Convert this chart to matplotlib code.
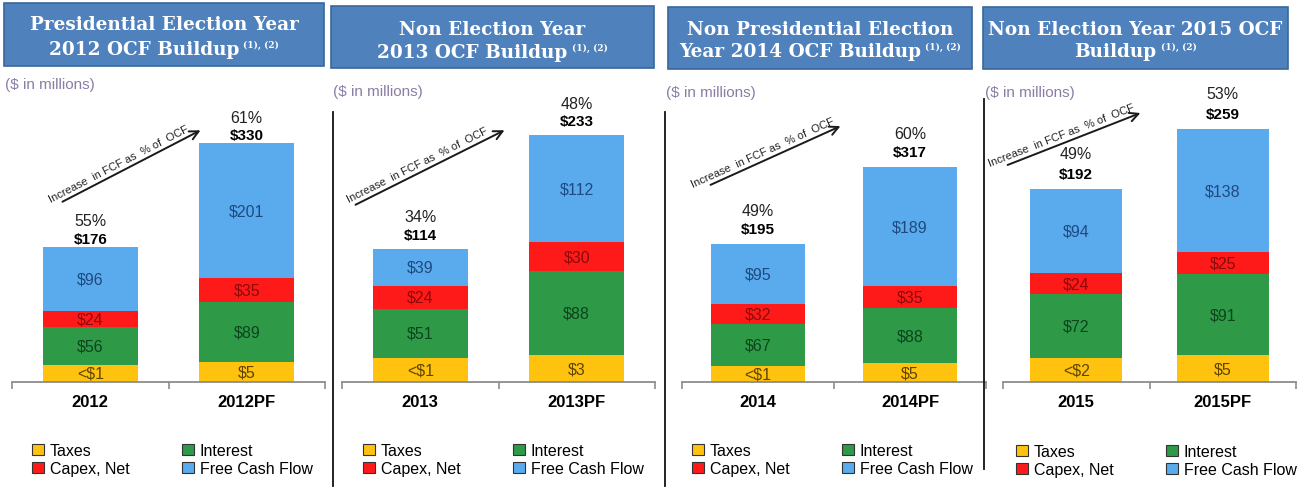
import numpy as np
import matplotlib
matplotlib.use("Agg")
import matplotlib.pyplot as plt
from matplotlib.patches import Rectangle, Patch
from matplotlib.lines import Line2D

plt.rcParams['font.family'] = ['Liberation Sans', 'DejaVu Sans']

## Datos ($ in millions)
titles = [("Presidential Election Year", "2012 OCF Buildup"),
          ("Non Election Year", "2013 OCF Buildup"),
          ("Non Presidential Election", "Year 2014 OCF Buildup"),
          ("Non Election Year 2015 OCF", "Buildup")]
years = [["2012", "2012PF"], ["2013", "2013PF"], ["2014", "2014PF"], ["2015", "2015PF"]]

taxes      = [[0.5, 5], [0.5, 3], [0.5, 5], [1.5, 5]]
tax_labels = [["<$1", "$5"], ["<$1", "$3"], ["<$1", "$5"], ["<$2", "$5"]]
interest   = [[56, 89], [51, 88], [67, 88], [72, 91]]
capex      = [[24, 35], [24, 30], [32, 35], [24, 25]]
fcf        = [[96, 201], [39, 112], [95, 189], [94, 138]]
ocf_total  = [[176, 330], [114, 233], [195, 317], [192, 259]]
fcf_pct    = [[55, 61], [34, 48], [49, 60], [49, 53]]

series_names = ["Taxes", "Interest", "Capex, Net", "Free Cash Flow"]
colors  = ["#FFC20E", "#2E9A48", "#FF1A1A", "#5AAAEE"]
txt_col = ["#5E4500", "#0C441B", "#8B0A0A", "#1F4A80"]

## Layout (pixels, origin top-left)
W, H = 1309, 489
base_y, top_y = 383, 100
ax_x   = [(12, 325), (342, 655), (682, 986), (1003, 1296)]
ax_ymax = [396, 271, 426, 293]
bar_w  = [0.61, 0.61, 0.62, 0.63]
tot_gap = [8, 14, 15, 15]
pct_gap = [26, 32, 34, 36]
boxes  = [(4, 4, 324, 67), (331, 7, 654, 69), (668, 8, 972, 70), (983, 8, 1288, 70)]
line_y = [(25, 50), (30, 53), (30, 52), (30, 52)]
units_xy = [(5, 85), (333, 92), (666, 93), (985, 93)]
arrows = [((60, 204), (203, 130)), ((353, 207), (507, 130)),
          ((708, 187), (843, 126)), ((1005, 167), (1143, 113))]
legend_xy = [(32, 444), (363, 444), (692, 444), (1016, 445)]
separators = [(333, 113, 487), (665, 113, 487), (984, 100, 470)]


def fx(x):
    return x / W


def fy(y):
    return 1 - y / H


# escala que ensancha el primer medio dolar (impuestos)
def fwd(y):
    y = np.asarray(y, float)
    return y + 50 * np.clip(y, 0, 0.5)


def inv(u):
    u = np.asarray(u, float)
    return np.where(u < 0, u, np.where(u <= 25.5, u / 51.0, u - 25.0))


fig = plt.figure(figsize=(W / 100, H / 100), dpi=100)
renderer = fig.canvas.get_renderer()

for p in range(4):
    x0, x1 = ax_x[p]
    ax = fig.add_axes([fx(x0), fy(base_y), (x1 - x0) / W, (base_y - top_y) / H])
    ax.set_yscale('function', functions=(fwd, inv))
    ax.set_xlim(-0.5, 1.5)
    ax.set_ylim(0, ax_ymax[p])
    ax.patch.set_alpha(0)

    segs = [taxes[p], interest[p], capex[p], fcf[p]]
    bottom = np.zeros(2)
    for k, vals in enumerate(segs):
        vals = np.array(vals, float)
        ax.bar([0, 1], vals, bar_w[p], bottom=bottom, color=colors[k], linewidth=0)
        for i in range(2):
            lo, hi = bottom[i], bottom[i] + vals[i]
            ymid = inv((fwd(lo) + fwd(hi)) / 2)
            lab = tax_labels[p][i] if k == 0 else "${:.0f}".format(vals[i])
            ax.text(i, ymid, lab, ha='center', va='center', fontsize=11.5, color=txt_col[k])
        bottom = bottom + vals

    for i in range(2):
        ax.annotate("${}".format(ocf_total[p][i]), xy=(i, bottom[i]),
                    xytext=(0, tot_gap[p] * 0.72), textcoords='offset points',
                    ha='center', va='center', fontsize=11, fontweight='bold')
        ax.annotate("{}%".format(fcf_pct[p][i]), xy=(i, bottom[i]),
                    xytext=(0, pct_gap[p] * 0.72), textcoords='offset points',
                    ha='center', va='center', fontsize=11.5, color='#222222')

    for s in ['top', 'left', 'right']:
        ax.spines[s].set_visible(False)
    ax.spines['bottom'].set_color('#8c8c8c')
    ax.spines['bottom'].set_linewidth(1.3)
    ax.yaxis.set_visible(False)
    ax.set_xticks([0, 1])
    ax.set_xticklabels(years[p], fontsize=12, fontweight='bold')
    ax.set_xticks([-0.5, 0.5, 1.5], minor=True)
    ax.tick_params(axis='x', which='major', length=0, pad=9)
    ax.tick_params(axis='x', which='minor', length=5, width=1.2, color='#8c8c8c')

    # leyenda
    handles = [Patch(facecolor=colors[k], edgecolor='#333333', linewidth=0.8, label=series_names[k])
               for k in [0, 2, 1, 3]]
    lx, ly = legend_xy[p]
    ax.legend(handles=handles, ncol=2, loc='upper left', bbox_to_anchor=(fx(lx), fy(ly)),
              bbox_transform=fig.transFigure, frameon=False, fontsize=11.5,
              borderpad=0, borderaxespad=0, handlelength=0.75, handleheight=0.75,
              handletextpad=0.35, columnspacing=3.3, labelspacing=0.2)

    # flecha "Increase in FCF as % of OCF"
    (tx, ty), (hx, hy) = arrows[p]
    ax.annotate("", xy=(hx, H - hy), xycoords='figure pixels',
                xytext=(tx, H - ty), textcoords='figure pixels',
                arrowprops=dict(arrowstyle='->', lw=1.4, color='#1a1a1a', mutation_scale=16),
                annotation_clip=False)
    ang = np.degrees(np.arctan2(ty - hy, hx - tx))
    d = np.array([hx - tx, hy - ty], float)
    d /= np.hypot(*d)
    perp = np.array([d[1], -d[0]])
    mx, my = (tx + hx) / 2 - 10 * d[0] + 3 * perp[0], (ty + hy) / 2 - 10 * d[1] + 3 * perp[1]
    fig.text(fx(mx), fy(my), "Increase  in FCF as  % of  OCF", rotation=ang,
             rotation_mode='anchor', ha='center', va='bottom', fontsize=8, color='#222222')

    # titulo en caja azul
    bx0, by0, bx1, by1 = boxes[p]
    fig.add_artist(Rectangle((fx(bx0), fy(by1)), (bx1 - bx0) / W, (by1 - by0) / H,
                             transform=fig.transFigure, facecolor='#4F81BD',
                             edgecolor='#3A679C', linewidth=1.2))
    cx = (bx0 + bx1) / 2
    l1, l2 = titles[p]
    fig.text(fx(cx), fy(line_y[p][0]), l1, ha='center', va='center', color='white',
             fontsize=13.3, fontweight='bold', family='DejaVu Serif')
    sup = fig.text(0, 0, "(1), (2)", color='white', fontsize=6.5, fontweight='bold',
                   family='DejaVu Serif', ha='left', va='center')
    main = fig.text(0, 0, l2, color='white', fontsize=13.3, fontweight='bold',
                    family='DejaVu Serif', ha='left', va='center')
    wm = main.get_window_extent(renderer).width
    ws = sup.get_window_extent(renderer).width
    left = cx - (wm + 4 + ws) / 2
    main.set_position((fx(left), fy(line_y[p][1])))
    sup.set_position((fx(left + wm + 4), fy(line_y[p][1] - 5)))

    fig.text(fx(units_xy[p][0]), fy(units_xy[p][1]), "($ in millions)", ha='left', va='center',
             fontsize=11, color='#8A7DA6')

for x, y0, y1 in separators:
    fig.add_artist(Line2D([fx(x), fx(x)], [fy(y0), fy(y1)], transform=fig.transFigure,
                          color='#111111', linewidth=1.3))

fig.savefig("out.png", dpi=100)
